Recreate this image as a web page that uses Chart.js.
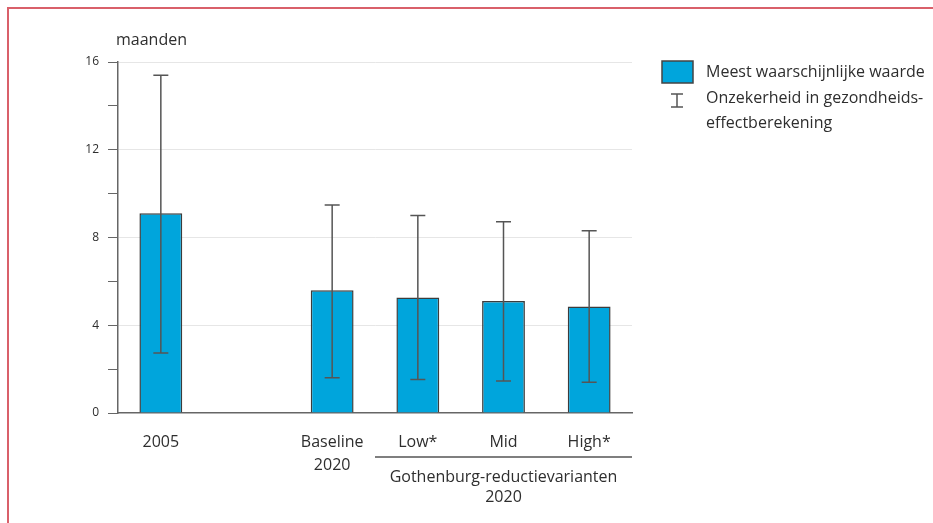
<!DOCTYPE html>
<html>
<head>
<meta charset="utf-8">
<script src="https://cdn.jsdelivr.net/npm/chart.js@4.4.0/dist/chart.umd.min.js"></script>
<style>
html,body{margin:0;padding:0;background:#fff;}
#wrap{width:933px;height:523px;position:relative;}
</style>
</head>
<body>
<div id="wrap"><canvas id="c" width="933" height="523"></canvas></div>
<script>
const categories = ['2005', '', ['Baseline', '2020'], 'Low*', 'Mid', 'High*'];
const likelyValues = [9.1, null, 5.6, 5.27, 5.1, 4.85];
const errLow = [2.73, null, 1.61, 1.53, 1.46, 1.40];
const errHigh = [15.4, null, 9.48, 9.0, 8.72, 8.31];
const yTicks = [0, 4, 8, 12, 16];
const yTitle = 'maanden';
const groupLabel = ['Gothenburg-reductievarianten', '2020'];
const legendItems = ['Meest waarschijnlijke waarde', ['Onzekerheid in gezondheids-', 'effectberekening']];

const FONT = '"Open Sans", sans-serif';
const TXT = '#2e2e2e';
const BAR = '#00a5dc';

const errorBars = {
  id: 'errorBars',
  afterDatasetsDraw(chart) {
    const ctx = chart.ctx;
    const meta = chart.getDatasetMeta(0);
    const y = chart.scales.y;
    ctx.save();
    ctx.strokeStyle = '#555555';
    ctx.lineWidth = 1.5;
    meta.data.forEach((bar, i) => {
      if (errLow[i] == null) return;
      const x = bar.x;
      const yl = y.getPixelForValue(errLow[i]);
      const yh = y.getPixelForValue(errHigh[i]);
      ctx.beginPath();
      ctx.moveTo(x, yl); ctx.lineTo(x, yh);
      ctx.moveTo(x - 7.5, yl); ctx.lineTo(x + 7.5, yl);
      ctx.moveTo(x - 7.5, yh); ctx.lineTo(x + 7.5, yh);
      ctx.stroke();
    });
    ctx.restore();
  }
};

const decorations = {
  id: 'decorations',
  afterDraw(chart) {
    const ctx = chart.ctx;
    const xs = chart.scales.x;
    const area = chart.chartArea;
    ctx.save();
    // frame
    ctx.strokeStyle = '#d9606a';
    ctx.lineWidth = 2;
    ctx.beginPath();
    ctx.moveTo(8, 523); ctx.lineTo(8, 8); ctx.lineTo(933, 8);
    ctx.stroke();
    // y title
    ctx.fillStyle = TXT;
    ctx.font = '16px ' + FONT;
    ctx.textBaseline = 'middle';
    ctx.textAlign = 'left';
    ctx.fillText(yTitle, area.left - 2, 40);
    // group line and label
    const step = xs.getPixelForValue(1) - xs.getPixelForValue(0);
    const x0 = xs.getPixelForValue(3) - step / 2;
    const x1 = xs.getPixelForValue(5) + step / 2;
    ctx.strokeStyle = '#555555';
    ctx.lineWidth = 1.5;
    ctx.beginPath();
    ctx.moveTo(x0, 457); ctx.lineTo(x1, 457);
    ctx.stroke();
    ctx.textAlign = 'center';
    const cx = xs.getPixelForValue(4);
    ctx.fillText(groupLabel[0], cx, 477);
    ctx.fillText(groupLabel[1], cx, 497);
    // legend
    ctx.fillStyle = BAR;
    ctx.fillRect(662, 61, 31, 22);
    ctx.strokeStyle = '#444444';
    ctx.lineWidth = 1.5;
    ctx.strokeRect(662, 61, 31, 22);
    ctx.strokeStyle = '#555555';
    ctx.beginPath();
    ctx.moveTo(677, 94); ctx.lineTo(677, 107);
    ctx.moveTo(671, 94); ctx.lineTo(683, 94);
    ctx.moveTo(671, 107); ctx.lineTo(683, 107);
    ctx.stroke();
    ctx.fillStyle = TXT;
    ctx.textAlign = 'left';
    ctx.fillText(legendItems[0], 706, 72);
    ctx.fillText(legendItems[1][0], 706, 98);
    ctx.fillText(legendItems[1][1], 706, 123);
    ctx.restore();
  }
};

new Chart(document.getElementById('c'), {
  type: 'bar',
  data: {
    labels: categories,
    datasets: [{
      data: likelyValues,
      backgroundColor: BAR,
      borderColor: '#3c3c3c',
      borderWidth: 1.5,
      barPercentage: 0.5,
      categoryPercentage: 1.0
    }]
  },
  options: {
    responsive: false,
    animation: false,
    layout: { padding: { top: 62, right: 301, left: 0, bottom: 0 } },
    plugins: { legend: { display: false }, tooltip: { enabled: false } },
    scales: {
      x: {
        grid: { display: false, drawTicks: false },
        border: { color: '#666666', width: 1.5 },
        ticks: {
          color: TXT,
          font: { family: FONT, size: 16, lineHeight: 1.44 },
          padding: 18,
          maxRotation: 0,
          autoSkip: false
        },
        afterFit(s) { s.height = 110; }
      },
      y: {
        min: 0, max: 16,
        grid: {
          color: (c) => (c.tick && c.tick.value % 4 === 0 && c.tick.value !== 0) ? '#e6e6e6' : 'rgba(0,0,0,0)',
          tickColor: '#666666',
          tickLength: 10,
          lineWidth: 1
        },
        border: { color: '#666666', width: 1.5 },
        ticks: {
          stepSize: 2,
          color: TXT,
          padding: 9,
          font: { family: FONT, size: 12 },
          callback: (v) => yTicks.includes(v) ? String(v) : ''
        },
        afterFit(s) { s.width = 118; }
      }
    }
  },
  plugins: [errorBars, decorations]
});
</script>
</body>
</html>
